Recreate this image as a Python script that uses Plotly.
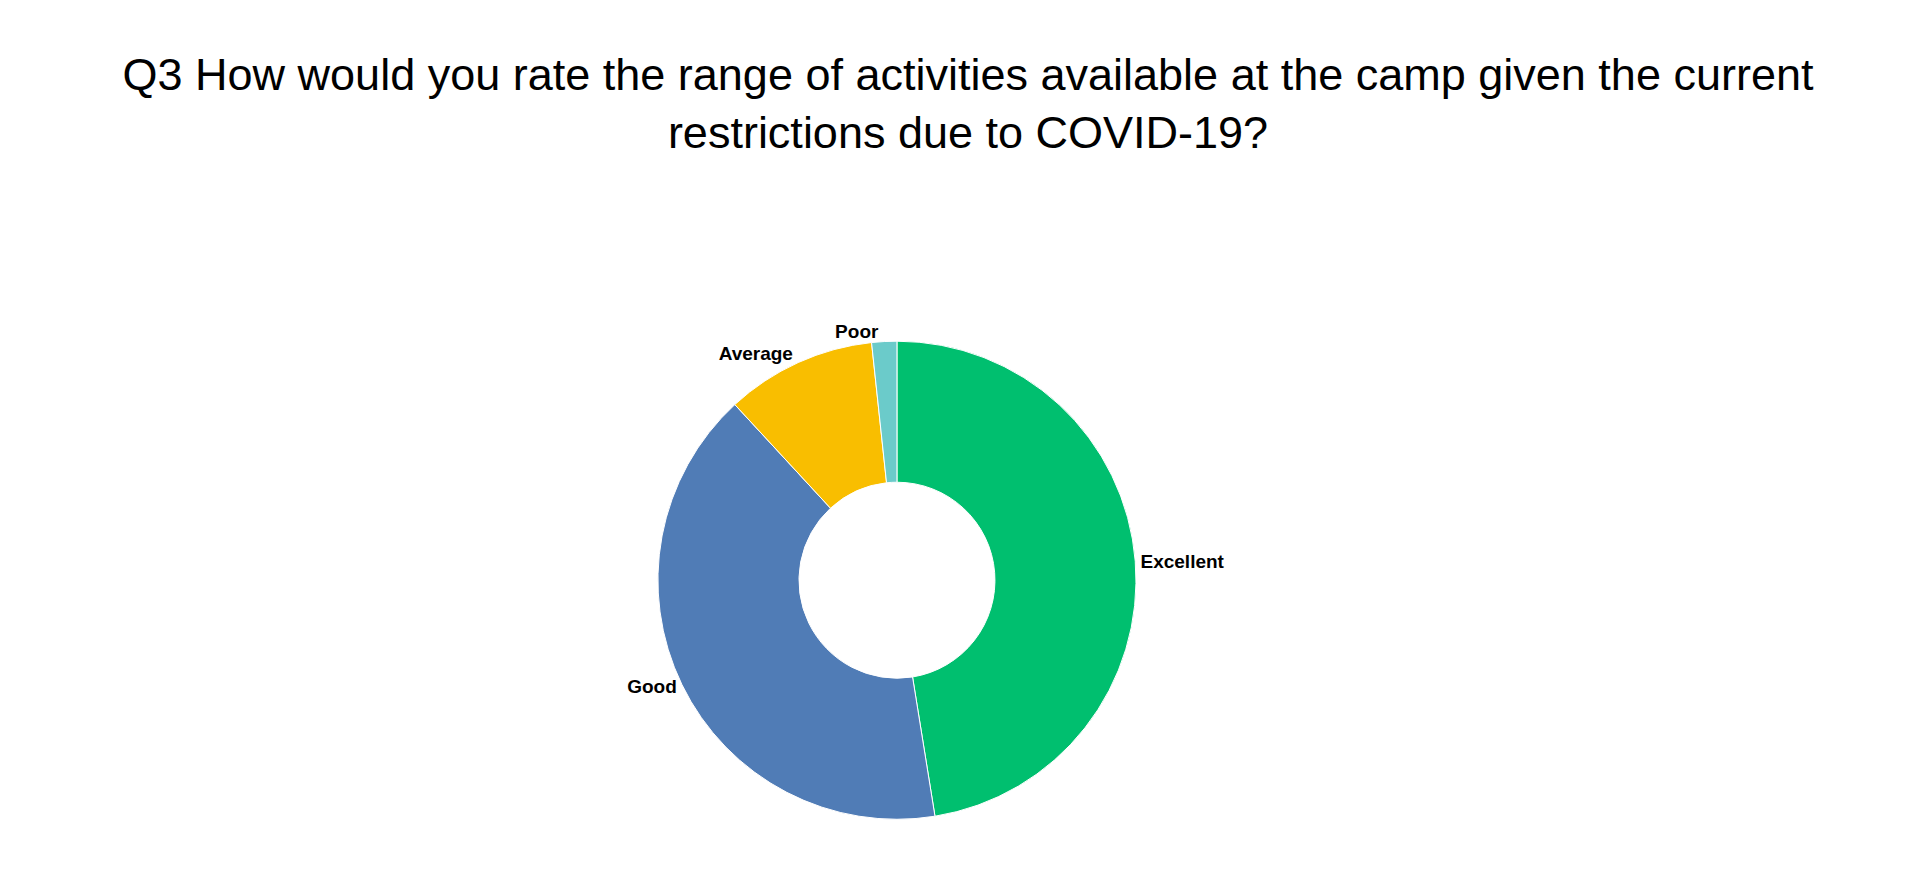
import plotly.graph_objects as go

labels = ["Excellent", "Good", "Average", "Poor"]
counts = [28, 24, 6, 1]
colors = ["#00BF6F", "#507CB6", "#F9BE00", "#6BCBCA"]

fig = go.Figure(go.Pie(
    labels=["<b>" + l + "</b>" for l in labels], values=counts, hole=0.41, sort=False,
    direction="clockwise", rotation=0,
    marker=dict(colors=colors, line=dict(color="white", width=1)),
    textinfo="label", textposition="outside",
    textfont=dict(family="Liberation Sans", size=19, color="black"),
    domain=dict(x=[0.3385, 0.5875], y=[0.077, 0.621]),
    showlegend=False,
))
fig.update_layout(
    width=1920, height=879,
    paper_bgcolor="white",
    margin=dict(l=0, r=0, t=0, b=0),
    title=dict(
        text="Q3 How would you rate the range of activities available at the camp given the current<br>restrictions due to COVID-19?",
        x=0.5, xanchor="center", y=0.907, yanchor="middle",
        font=dict(family="Liberation Sans", size=45, color="black"),
    ),
)
fig.write_html("out.html")
